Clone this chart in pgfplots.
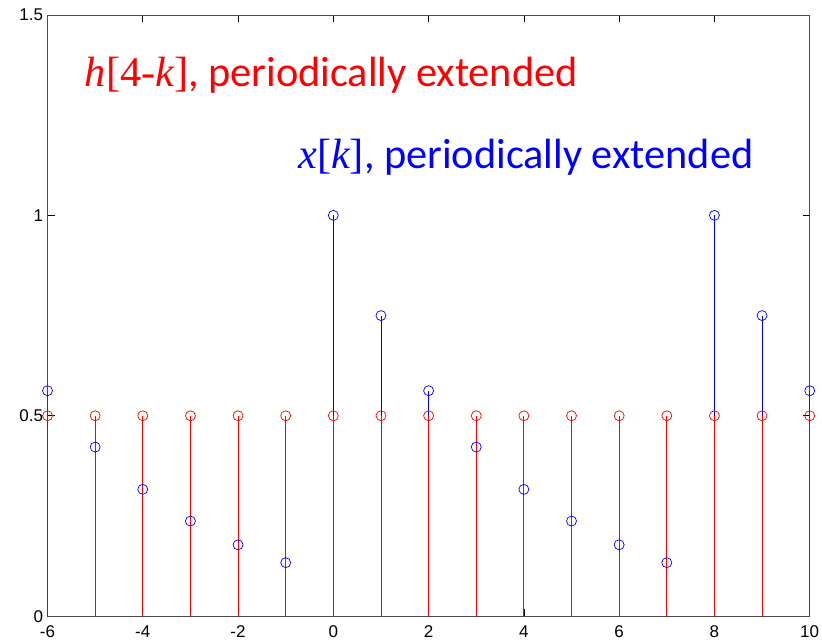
\documentclass[border=0pt]{standalone}
\usepackage{pgfplots}
\pgfplotsset{compat=1.18}
\usepackage{fontspec}
\setmainfont{Liberation Sans}
\newfontfamily\calib{Carlito}
\newfontfamily\tms{Liberation Serif}
\newcommand\tickfont{\fontsize{17}{20}\selectfont}
\begin{document}
\begin{tikzpicture}
\begin{axis}[
  scale only axis, width=762pt, height=601pt,
  xmin=-6, xmax=10, ymin=0, ymax=1.5,
  xtick={-6,-4,...,10}, ytick={0,0.5,1,1.5},
  xticklabels={-6,-4,-2,0,2,4,6,8,10},
  yticklabels={0,0.5,1,1.5},
  tick align=inside, major tick length=7pt,
  tick style={black, line width=0.6pt},
  axis line style={black!70, line width=0.8pt},
  xticklabel style={font=\tickfont, yshift=-6pt},
  yticklabel style={font=\tickfont, xshift=-1pt},
  clip marker paths=false,
]
\coordinate (bl) at (rel axis cs:0,0);
\coordinate (tr) at (rel axis cs:1,1);
% x[k], periodically extended (0.75^(k mod 8))
\addplot[ycomb, blue, line width=0.9pt, mark=o, mark size=5pt, mark options={blue, line width=0.7pt}] coordinates {
(-6,0.5625) (-5,0.4219) (-4,0.3164) (-3,0.2373) (-2,0.1780) (-1,0.1335)
(0,1.0) (1,0.75) (2,0.5625) (3,0.4219) (4,0.3164) (5,0.2373) (6,0.1780) (7,0.1335)
(8,1.0) (9,0.75) (10,0.5625)};
% h[4-k], periodically extended
\addplot[ycomb, red, line width=0.9pt, mark=o, mark size=5pt, mark options={red, line width=0.7pt}] coordinates {
(-6,0.5) (-5,0.5) (-4,0.5) (-3,0.5) (-2,0.5) (-1,0.5) (0,0.5) (1,0.5) (2,0.5)
(3,0.5) (4,0.5) (5,0.5) (6,0.5) (7,0.5) (8,0.5) (9,0.5) (10,0.5)};
\node[anchor=base west, inner sep=0pt, text=red, font=\fontsize{42.3}{46}\selectfont] at (axis cs:-5.22,1.3208)
  {{\tms\itshape h}{\tms[4-}{\tms\itshape k}{\tms]}{\calib, periodically extended}};
\node[anchor=base west, inner sep=0pt, text=blue, font=\fontsize{42.3}{46}\selectfont] at (axis cs:-0.74,1.1175)
  {{\tms\itshape x}{\tms[}{\tms\itshape k}{\tms]}{\calib, periodically extended}};
\end{axis}
\pgfresetboundingbox
\path ([shift={(-47.5pt,-26pt)}]bl) rectangle ([shift={(12.3pt,15pt)}]tr);
\end{tikzpicture}
\end{document}
